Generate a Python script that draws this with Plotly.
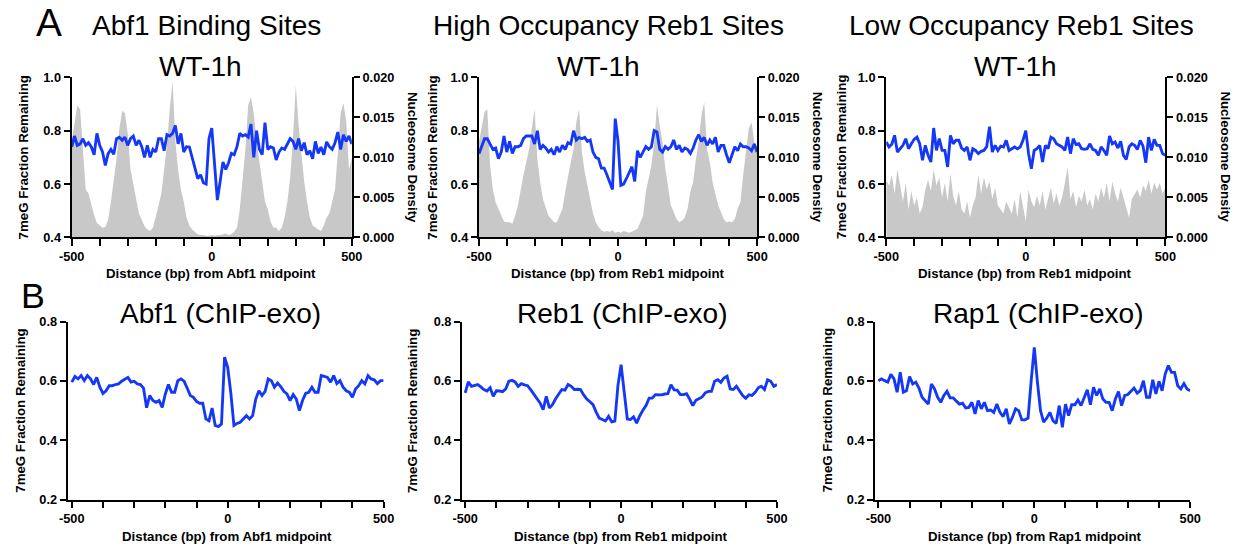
import plotly.graph_objects as go

# Position relative to the site midpoint (bp), one value every 10 bp
bp = list(range(-500, 501, 10))

# ---- Panel A: 7meG fraction remaining (WT-1h) and nucleosome density ----
abf1_meg = [0.739, 0.78, 0.745, 0.75, 0.77, 0.745, 0.755, 0.739, 0.71, 0.79,
            0.745, 0.72, 0.67, 0.714, 0.73, 0.712, 0.77, 0.775, 0.764, 0.776,
            0.745, 0.77, 0.78, 0.745, 0.764, 0.74, 0.70, 0.745, 0.70, 0.73,
            0.72, 0.77, 0.77, 0.725, 0.785, 0.78, 0.79, 0.82, 0.751, 0.79,
            0.72, 0.74, 0.739, 0.70, 0.66, 0.62, 0.635, 0.605, 0.60, 0.77,
            0.81, 0.676, 0.54, 0.61, 0.683, 0.655, 0.68, 0.715, 0.71, 0.74,
            0.79, 0.78, 0.785, 0.776, 0.825, 0.70, 0.80, 0.73, 0.71, 0.83,
            0.73, 0.74, 0.735, 0.69, 0.72, 0.735, 0.73, 0.75, 0.77, 0.76,
            0.73, 0.77, 0.725, 0.755, 0.71, 0.725, 0.695, 0.76, 0.715, 0.739,
            0.71, 0.758, 0.74, 0.73, 0.755, 0.795, 0.73, 0.785, 0.76, 0.78,
            0.75]
abf1_nuc = [0.012, 0.014, 0.0165, 0.016, 0.011, 0.006, 0.0055, 0.004, 0.0028, 0.0018,
            0.0015, 0.0012, 0.0013, 0.0022, 0.0045, 0.007, 0.0098, 0.0135, 0.0158, 0.0155,
            0.013, 0.0085, 0.0065, 0.0045, 0.003, 0.0022, 0.0014, 0.001, 0.0008, 0.0012,
            0.0025, 0.004, 0.0055, 0.0085, 0.0115, 0.016, 0.0195, 0.012, 0.0085, 0.006,
            0.0045, 0.0025, 0.0015, 0.001, 0.0007, 0.0004, 0.0003, 0.0003, 0.0002, 0.0002,
            0.0003, 0.0002, 0.0003, 0.0003, 0.0004, 0.0005, 0.0003, 0.0004, 0.0007, 0.0012,
            0.0035, 0.0075, 0.011, 0.0165, 0.0175, 0.0155, 0.012, 0.0095, 0.007, 0.0045,
            0.0035, 0.002, 0.0012, 0.0012, 0.0008, 0.0012, 0.0025, 0.0045, 0.0075, 0.0125,
            0.019, 0.014, 0.0105, 0.007, 0.0045, 0.0025, 0.0015, 0.0012, 0.001, 0.0008,
            0.0015, 0.0025, 0.003, 0.0045, 0.006, 0.0105, 0.0155, 0.0168, 0.0145, 0.0085,
            0.010]

reb1_high_meg = [0.714, 0.745, 0.77, 0.77, 0.751, 0.73, 0.735, 0.695, 0.72, 0.78,
                 0.72, 0.76, 0.715, 0.74, 0.74, 0.745, 0.77, 0.78, 0.78, 0.78,
                 0.75, 0.80, 0.73, 0.745, 0.735, 0.72, 0.73, 0.71, 0.74, 0.72,
                 0.745, 0.73, 0.755, 0.75, 0.80, 0.765, 0.775, 0.77, 0.775, 0.76,
                 0.765, 0.72, 0.70, 0.695, 0.66, 0.66, 0.635, 0.6075, 0.58, 0.845,
                 0.76, 0.595, 0.60, 0.62, 0.64, 0.665, 0.61, 0.725, 0.70, 0.72,
                 0.74, 0.73, 0.74, 0.80, 0.795, 0.73, 0.72, 0.74, 0.73, 0.74,
                 0.765, 0.73, 0.745, 0.72, 0.735, 0.73, 0.715, 0.735, 0.765, 0.785,
                 0.76, 0.775, 0.745, 0.765, 0.75, 0.775, 0.72, 0.745, 0.745, 0.71,
                 0.68, 0.71, 0.74, 0.725, 0.75, 0.74, 0.74, 0.735, 0.725, 0.75,
                 0.72]
reb1_high_nuc = [0.0119, 0.014, 0.0157, 0.016, 0.009, 0.006, 0.0044, 0.0036, 0.0027, 0.002,
                 0.0019, 0.0019, 0.0017, 0.0027, 0.004, 0.006, 0.0078, 0.0094, 0.011, 0.0136,
                 0.016, 0.0098, 0.0069, 0.0048, 0.0036, 0.0027, 0.0023, 0.0019, 0.0019, 0.0027,
                 0.0036, 0.0057, 0.0078, 0.0094, 0.011, 0.0144, 0.016, 0.0107, 0.0082, 0.0065,
                 0.0044, 0.003, 0.0019, 0.0013, 0.0009, 0.0007, 0.0008, 0.0007, 0.0009, 0.0006,
                 0.0007, 0.0006, 0.0008, 0.0007, 0.0006, 0.0007, 0.0009, 0.0011, 0.0019, 0.0027,
                 0.0057, 0.0073, 0.009, 0.0119, 0.0165, 0.014, 0.0119, 0.0086, 0.0065, 0.004,
                 0.0032, 0.0023, 0.0019, 0.0021, 0.0025, 0.0036, 0.0057, 0.0069, 0.0098, 0.0119,
                 0.0153, 0.0169, 0.011, 0.0094, 0.0069, 0.0053, 0.004, 0.0032, 0.0023, 0.0019,
                 0.002, 0.0019, 0.0023, 0.0036, 0.0044, 0.0078, 0.0107, 0.0136, 0.0144, 0.0119,
                 0.011]

reb1_low_meg = [0.7575, 0.739, 0.749, 0.7825, 0.72, 0.7325, 0.745, 0.77, 0.7325, 0.751,
                0.7675, 0.776, 0.751, 0.689, 0.745, 0.7075, 0.6825, 0.81, 0.726, 0.77,
                0.726, 0.726, 0.664, 0.7825, 0.751, 0.764, 0.764, 0.735, 0.726, 0.739,
                0.689, 0.7325, 0.726, 0.714, 0.7225, 0.726, 0.74, 0.815, 0.72, 0.745,
                0.726, 0.742, 0.739, 0.764, 0.726, 0.7325, 0.739, 0.7325, 0.739, 0.764,
                0.80, 0.714, 0.6575, 0.726, 0.7325, 0.745, 0.6825, 0.745, 0.7325, 0.776,
                0.77, 0.751, 0.745, 0.739, 0.726, 0.776, 0.714, 0.77, 0.748, 0.751,
                0.7325, 0.73, 0.7325, 0.751, 0.73, 0.726, 0.7075, 0.739, 0.726, 0.7075,
                0.78, 0.751, 0.7575, 0.735, 0.76, 0.7075, 0.6925, 0.739, 0.751, 0.745,
                0.73, 0.764, 0.742, 0.68, 0.776, 0.726, 0.7675, 0.745, 0.745, 0.714,
                0.7075]
reb1_low_nuc = [0.0072, 0.0065, 0.0078, 0.0055, 0.0085, 0.0062, 0.0045, 0.0068, 0.0035, 0.0058,
                0.0040, 0.0050, 0.0030, 0.0038, 0.0060, 0.0072, 0.0058, 0.0085, 0.0065, 0.0075,
                0.0050, 0.0068, 0.0045, 0.0080, 0.0052, 0.0040, 0.0058, 0.0035, 0.0030, 0.0045,
                0.0025, 0.0040, 0.0050, 0.0078, 0.0055, 0.0075, 0.0060, 0.0070, 0.0048, 0.0062,
                0.0040, 0.0035, 0.0030, 0.0045, 0.0038, 0.0030, 0.0048, 0.0025, 0.0058, 0.0040,
                0.0020, 0.0060, 0.0045, 0.0038, 0.0052, 0.0040, 0.0058, 0.0035, 0.0048, 0.0062,
                0.0042, 0.0055, 0.0040, 0.0050, 0.0068, 0.0088, 0.0048, 0.0058, 0.0038, 0.0052,
                0.0045, 0.0060, 0.0040, 0.0048, 0.0035, 0.0055, 0.0045, 0.0062, 0.0050, 0.0068,
                0.0045, 0.0070, 0.0055, 0.0045, 0.0062, 0.0050, 0.0038, 0.0025, 0.0048, 0.0055,
                0.0060, 0.0050, 0.0065, 0.0058, 0.0072, 0.0055, 0.0068, 0.0060, 0.0068, 0.0055,
                0.0062]

# ---- Panel B: 7meG fraction remaining around ChIP-exo sites ----
abf1_exo = [0.596, 0.615, 0.607, 0.618, 0.601, 0.618, 0.607, 0.588, 0.612, 0.579,
            0.558, 0.567, 0.584, 0.584, 0.588, 0.590, 0.599, 0.607, 0.612, 0.596,
            0.599, 0.590, 0.588, 0.576, 0.51, 0.551, 0.534, 0.528, 0.534, 0.511,
            0.556, 0.588, 0.562, 0.562, 0.601, 0.607, 0.599, 0.576, 0.551, 0.545,
            0.531, 0.525, 0.525, 0.472, 0.466, 0.509, 0.450, 0.446, 0.455, 0.68,
            0.646, 0.56, 0.450, 0.457, 0.461, 0.472, 0.483, 0.472, 0.483, 0.539,
            0.567, 0.551, 0.565, 0.607, 0.601, 0.579, 0.593, 0.581, 0.565, 0.556,
            0.534, 0.554, 0.539, 0.500, 0.534, 0.558, 0.562, 0.579, 0.562, 0.562,
            0.618, 0.615, 0.612, 0.596, 0.618, 0.591, 0.601, 0.579, 0.567, 0.562,
            0.545, 0.573, 0.584, 0.601, 0.590, 0.618, 0.607, 0.604, 0.591, 0.601,
            0.601]
reb1_exo = [0.560, 0.597, 0.582, 0.584, 0.588, 0.580, 0.571, 0.566, 0.577, 0.548,
            0.567, 0.566, 0.564, 0.573, 0.599, 0.602, 0.597, 0.582, 0.591, 0.587,
            0.584, 0.571, 0.555, 0.539, 0.526, 0.503, 0.548, 0.509, 0.520, 0.540,
            0.554, 0.571, 0.569, 0.588, 0.582, 0.571, 0.572, 0.571, 0.553, 0.539,
            0.530, 0.520, 0.495, 0.475, 0.470, 0.465, 0.481, 0.462, 0.465, 0.585,
            0.655, 0.57, 0.472, 0.470, 0.479, 0.458, 0.483, 0.501, 0.517, 0.542,
            0.542, 0.554, 0.553, 0.553, 0.556, 0.557, 0.587, 0.570, 0.569, 0.554,
            0.554, 0.557, 0.539, 0.517, 0.535, 0.542, 0.546, 0.560, 0.565, 0.565,
            0.599, 0.604, 0.595, 0.610, 0.616, 0.573, 0.571, 0.582, 0.565, 0.551,
            0.542, 0.553, 0.551, 0.562, 0.577, 0.582, 0.571, 0.604, 0.599, 0.582,
            0.588]
rap1_exo = [0.601, 0.607, 0.601, 0.596, 0.622, 0.607, 0.562, 0.629, 0.562, 0.567,
            0.615, 0.590, 0.596, 0.576, 0.545, 0.534, 0.522, 0.590, 0.573, 0.545,
            0.528, 0.551, 0.565, 0.543, 0.543, 0.532, 0.522, 0.525, 0.509, 0.511,
            0.528, 0.489, 0.534, 0.506, 0.528, 0.500, 0.502, 0.494, 0.522, 0.494,
            0.480, 0.506, 0.455, 0.478, 0.506, 0.500, 0.469, 0.469, 0.475, 0.60,
            0.713, 0.596, 0.500, 0.461, 0.475, 0.494, 0.466, 0.457, 0.517, 0.444,
            0.522, 0.483, 0.520, 0.520, 0.536, 0.517, 0.545, 0.570, 0.520, 0.579,
            0.551, 0.573, 0.539, 0.528, 0.528, 0.500, 0.539, 0.564, 0.517, 0.551,
            0.554, 0.567, 0.576, 0.559, 0.567, 0.601, 0.545, 0.545, 0.604, 0.556,
            0.599, 0.567, 0.624, 0.652, 0.629, 0.629, 0.584, 0.573, 0.591, 0.573,
            0.567]

x_tickvals = list(range(-500, 501, 100))
x_ticktext = ["-500", "", "", "", "", "0", "", "", "", "", "500"]

W, H = 1243, 551
# The page adds an 8 px body margin around the figure and the whole page is
# then fitted to the window, so layout positions are laid out in window
# pixels and converted back into figure pixels here.
PAGE_MARGIN = 8
SX = W / (W + 2 * PAGE_MARGIN)
SY = H / (H + 2 * PAGE_MARGIN)
FS = 2 / (SX + SY)   # text / stroke enlargement to offset the fit

BLUE = "#1438f5"
GREY = "#c8c8c8"
FONT = "Liberation Sans, Arial, Helvetica, sans-serif"


def fx(px):
    return (px / SX - PAGE_MARGIN) / W


def fy(py):
    return 1 - (py / SY - PAGE_MARGIN) / H


def ax_name(prefix, n):
    return prefix if n == 1 else f"{prefix}{n}"


def lay_name(prefix, n):
    return f"{prefix}axis" if n == 1 else f"{prefix}axis{n}"


def bold_ticks(labels):
    return [f"<b>{t}</b>" if t else "" for t in labels]


axis_style = dict(
    showline=True, linecolor="black", linewidth=2 * FS,
    ticks="outside", ticklen=6 * FS, tickwidth=2 * FS, tickcolor="black",
    showgrid=False, zeroline=False,
    tickfont=dict(family=FONT, size=12.5 * FS, color="black", weight="bold"),
)
y_bold = dict(tickprefix="<b>", ticksuffix="</b>")
LINE_W = 2.8 * FS

fig = go.Figure()
layout = {}
annotations = []


def text(x, y, s, size, angle=0, bold=False):
    annotations.append(dict(
        x=fx(x), y=fy(y), xref="paper", yref="paper",
        text=f"<b>{s}</b>" if bold else s, showarrow=False,
        textangle=angle, xanchor="center", yanchor="middle",
        font=dict(family=FONT, size=size * FS, color="black"),
    ))


# Row A panels: (x-domain px, left/right data, titles)
row_a = [
    ((67, 349), abf1_meg, abf1_nuc, "Abf1 Binding Sites", "Abf1",
     (203, 197, 18, 410, 207)),
    ((477, 757), reb1_high_meg, reb1_high_nuc, "High Occupancy Reb1 Sites", "Reb1",
     (607, 597, 430, 818, 617)),
    ((887, 1168), reb1_low_meg, reb1_low_nuc, "Low Occupancy Reb1 Sites", "Reb1",
     (1023, 1017, 842, 1229, 1027)),
]
a_ydom = [fy(237), fy(77)]

for i, (xd, meg, nuc, title, factor, pos) in enumerate(row_a):
    xi = i + 1
    y_nuc = 2 * i + 1
    y_meg = 2 * i + 2
    fig.add_trace(go.Scatter(
        x=bp, y=nuc, xaxis=ax_name("x", xi), yaxis=ax_name("y", y_nuc),
        mode="lines", line=dict(width=0, color=GREY), fill="tozeroy",
        fillcolor=GREY, showlegend=False, hoverinfo="skip"))
    fig.add_trace(go.Scatter(
        x=bp, y=meg, xaxis=ax_name("x", xi), yaxis=ax_name("y", y_meg),
        mode="lines", line=dict(width=LINE_W, color=BLUE), showlegend=False))
    layout[lay_name("x", xi)] = dict(
        axis_style, domain=[fx(xd[0]), fx(xd[1])], range=[-500, 500],
        anchor=ax_name("y", y_nuc), tickmode="array",
        tickvals=x_tickvals, ticktext=bold_ticks(x_ticktext))
    layout[lay_name("y", y_nuc)] = dict(
        axis_style, **y_bold, domain=a_ydom, range=[0, 0.020], side="right",
        anchor=ax_name("x", xi), tickmode="array",
        tickvals=[0, 0.005, 0.010, 0.015, 0.020], tickformat=".3f")
    layout[lay_name("y", y_meg)] = dict(
        axis_style, **y_bold, range=[0.4, 1.0], side="left",
        overlaying=ax_name("y", y_nuc), anchor=ax_name("x", xi), tickmode="array",
        tickvals=[0.4, 0.6, 0.8, 1.0], tickformat=".1f")
    tx, wx, ylx, yrx, xtx = pos
    text(tx, 25, title, 27.5)
    text(wx, 66, "WT-1h", 27.5)
    text(ylx, 157, "7meG Fraction Remaining", 13, angle=-90, bold=True)
    text(yrx, 157, "Nucleosome Density", 13, angle=90, bold=True)
    text(xtx, 273, f"Distance (bp) from {factor} midpoint", 13, bold=True)

# Row B panels
row_b = [
    ((63, 381), (-513, 500), abf1_exo, "Abf1 (ChIP-exo)", "Abf1", (217, 16, 223)),
    ((460, 777), (-510, 500), reb1_exo, "Reb1 (ChIP-exo)", "Reb1", (622, 410, 620)),
    ((876, 1193), (-510, 500), rap1_exo, "Rap1 (ChIP-exo)", "Rap1", (1040, 828, 1037)),
]
b_ydom = [fy(499), fy(321)]

for j, (xd, xr, vals, title, factor, pos) in enumerate(row_b):
    xi = 4 + j
    yi = 7 + j
    fig.add_trace(go.Scatter(
        x=bp, y=vals, xaxis=ax_name("x", xi), yaxis=ax_name("y", yi),
        mode="lines", line=dict(width=LINE_W, color=BLUE), showlegend=False))
    layout[lay_name("x", xi)] = dict(
        axis_style, domain=[fx(xd[0]), fx(xd[1])], range=list(xr),
        anchor=ax_name("y", yi), tickmode="array",
        tickvals=x_tickvals, ticktext=bold_ticks(x_ticktext))
    layout[lay_name("y", yi)] = dict(
        axis_style, **y_bold, domain=b_ydom, range=[0.2, 0.8], side="left",
        anchor=ax_name("x", xi), tickmode="array",
        tickvals=[0.2, 0.4, 0.6, 0.8], tickformat=".1f")
    tx, ylx, xtx = pos
    text(tx, 313, title, 27.5)
    text(ylx, 410, "7meG Fraction Remaining", 13, angle=-90, bold=True)
    text(xtx, 536, f"Distance (bp) from {factor} midpoint", 13, bold=True)

# Panel letters
text(44, 22, "A", 38)
text(28, 295, "B", 35)

fig.update_layout(
    width=W, height=H,
    margin=dict(l=0, r=0, t=0, b=0),
    paper_bgcolor="white", plot_bgcolor="white",
    annotations=annotations,
    **layout,
)

fig.write_html("out.html", config={"displayModeBar": False})
